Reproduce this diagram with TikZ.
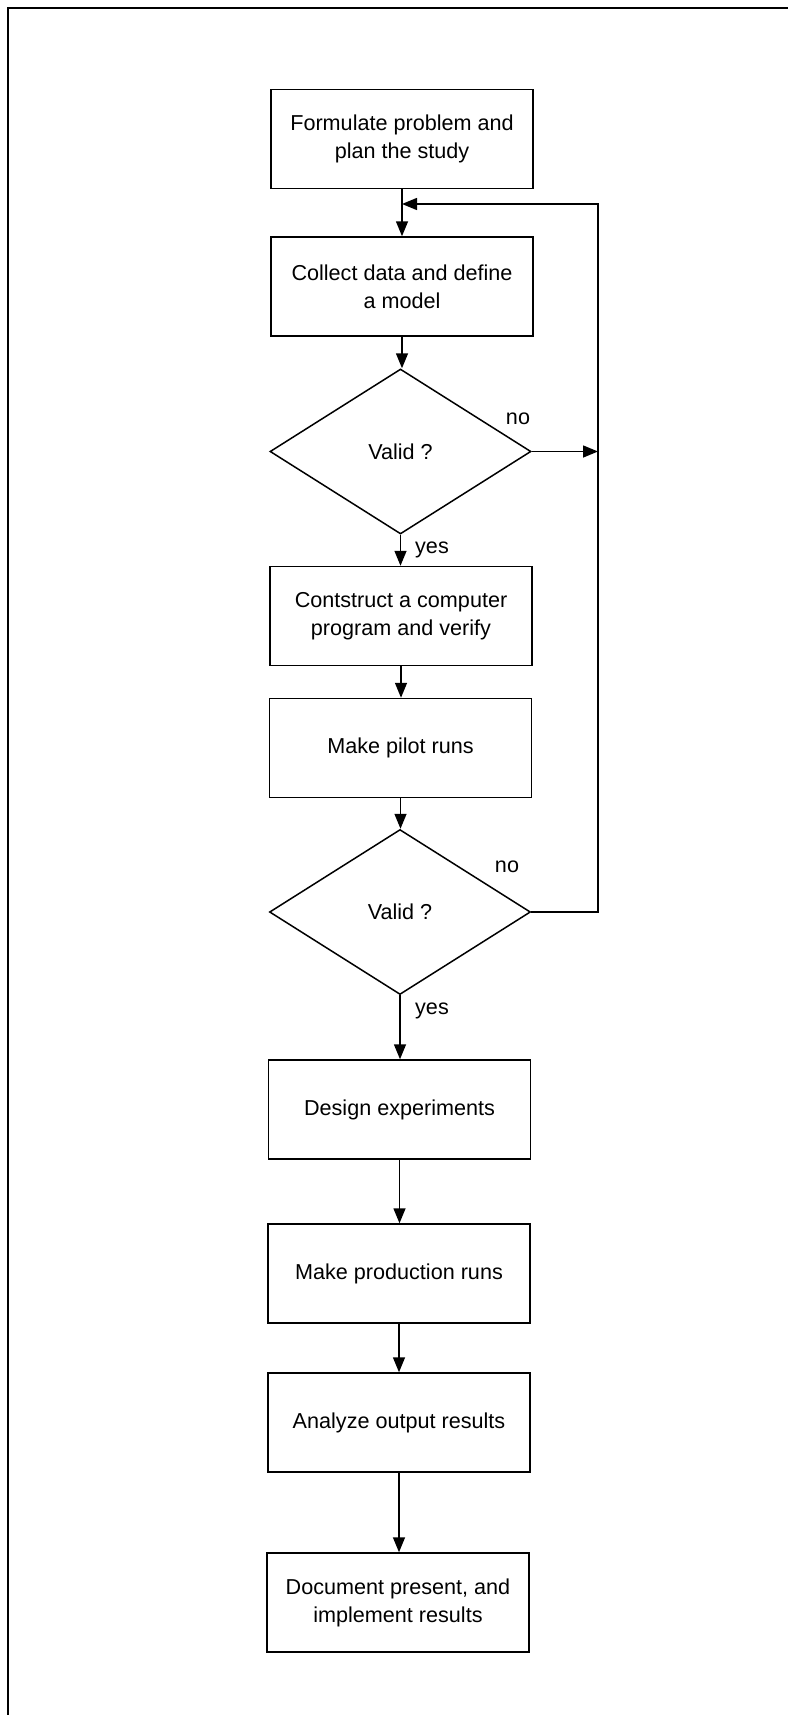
\documentclass[tikz,border=0pt]{standalone}
\usepackage{fontspec}
\setmainfont{Liberation Sans}
\usetikzlibrary{shapes.geometric,arrows.meta}
\tikzset{
  stepbox/.style={draw, line width=1.5pt, minimum width=262pt, minimum height=99pt, inner sep=0pt, align=center, font=\fontsize{21.6pt}{28pt}\selectfont},
  decision/.style={draw, diamond, line width=1.5pt, aspect=1.58, minimum width=261pt, minimum height=165pt, inner sep=0pt, font=\fontsize{21.6pt}{28pt}\selectfont},
  lbl/.style={inner sep=0pt, font=\fontsize{21.6pt}{28pt}\selectfont},
  conn/.style={line width=1.5pt, -{Triangle[length=15pt,width=12pt]}},
  plain/.style={line width=1.5pt}
}
\begin{document}
\begin{tikzpicture}[x=1pt,y=-1pt]
\useasboundingbox (0,0) rectangle (787,1715);
\draw[line width=2pt] (8,1716) -- (8,8) -- (788,8);

\node[stepbox] (b1) at (402,139) {Formulate problem and\\plan the study};
\node[stepbox] (b2) at (402,286.5) {Collect data and define\\a model};
\node[decision] (d1) at (400.5,451.5) {Valid ?};
\node[stepbox] (b3) at (401,616) {Contstruct a computer\\program and verify};
\node[stepbox] (b4) at (400.5,748) {Make pilot runs};
\node[decision] (d2) at (400,912) {Valid ?};
\node[stepbox] (b5) at (399.5,1109.5) {Design experiments};
\node[stepbox] (b6) at (399,1273.5) {Make production runs};
\node[stepbox] (b7) at (399,1422.5) {Analyze output results};
\node[stepbox] (b8) at (398,1602.5) {Document present, and\\implement results};

\coordinate (j1) at (402,204);
\coordinate (rt) at (598,204);
\coordinate (r1) at (598,451.5);
\coordinate (r2) at (598,912);

\node[lbl] (no1) at (518,419) {no};
\node[lbl] (no2) at (507,867) {no};
\node[lbl] (yes1) at (432,550) {yes};
\node[lbl] (yes2) at (432,1011) {yes};

\draw[conn] (b1.south) -- (b1.south |- b2.north);
\draw[conn] (b2.south) -- (b2.south |- d1.north);
\draw[conn] (d1.south) -- (d1.south |- b3.north);
\draw[conn] (b3.south) -- (b3.south |- b4.north);
\draw[conn] (b4.south) -- (b4.south |- d2.north);
\draw[conn] (d2.south) -- (d2.south |- b5.north);
\draw[conn] (b5.south) -- (b5.south |- b6.north);
\draw[conn] (b6.south) -- (b6.south |- b7.north);
\draw[conn] (b7.south) -- (b7.south |- b8.north);

\draw[conn] (d1.east) -- (r1);
\draw[conn] (d2.east) -- (r2) -- (rt) -- (j1);
\end{tikzpicture}
\end{document}
